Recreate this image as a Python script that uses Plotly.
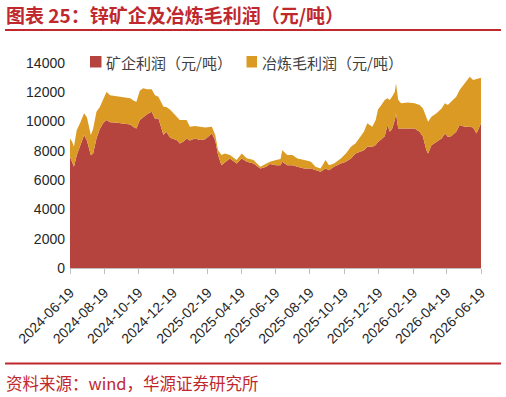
import plotly.graph_objects as go

dates = [
    "2024-06-19", "2024-06-23", "2024-06-26", "2024-07-01", "2024-07-07", "2024-07-14",
    "2024-07-19", "2024-07-26", "2024-07-30", "2024-08-05", "2024-08-11", "2024-08-17",
    "2024-08-23", "2024-08-29", "2024-09-07", "2024-09-16", "2024-09-25", "2024-10-04",
    "2024-10-11", "2024-10-15", "2024-10-21", "2024-10-27", "2024-11-03", "2024-11-11",
    "2024-11-17", "2024-11-23", "2024-12-02", "2024-12-07", "2024-12-14", "2024-12-26",
    "2024-12-31", "2025-01-06", "2025-01-12", "2025-01-18", "2025-01-27", "2025-02-05",
    "2025-02-14", "2025-02-26", "2025-03-04", "2025-03-09", "2025-03-15", "2025-03-21",
    "2025-03-30", "2025-04-11", "2025-04-20", "2025-04-29", "2025-05-11", "2025-05-23",
    "2025-06-03", "2025-06-09", "2025-06-20", "2025-06-28", "2025-07-01", "2025-07-10",
    "2025-07-19", "2025-07-28", "2025-08-09", "2025-08-21", "2025-08-29", "2025-09-07",
    "2025-09-16", "2025-09-22", "2025-10-01", "2025-10-13", "2025-10-22", "2025-10-31",
    "2025-11-08", "2025-11-17", "2025-11-23", "2025-11-29", "2025-12-08", "2025-12-14",
    "2025-12-18", "2025-12-24", "2025-12-30", "2026-01-04", "2026-01-08", "2026-01-12",
    "2026-01-17", "2026-01-19", "2026-01-23", "2026-01-28", "2026-02-09", "2026-02-21",
    "2026-03-02", "2026-03-08", "2026-03-14", "2026-03-17", "2026-03-23", "2026-04-01",
    "2026-04-10", "2026-04-16", "2026-04-21", "2026-04-27", "2026-05-06", "2026-05-12",
    "2026-05-21", "2026-05-30", "2026-06-05", "2026-06-11", "2026-06-14", "2026-06-19",
]

mine_profit = [
    7590, 7200, 6910, 7700, 8300, 9080, 8700, 7710, 7800, 8850, 9500, 9900,
    10100, 9950, 9930, 9900, 9860, 9800, 9600, 9530, 10100, 10300, 10500, 10670,
    10200, 10220, 9080, 9300, 8900, 8730, 8500, 8620, 8850, 8700, 8850, 8750,
    8800, 9190, 8700, 7710, 7020, 7200, 7480, 7140, 7480, 7250, 7140, 6800,
    6910, 7100, 7020, 7020, 7250, 7020, 7020, 6910, 6800, 6800, 6680, 6570,
    6800, 6680, 6910, 7140, 7250, 7480, 7820, 7940, 8050, 8280, 8280, 8400,
    8600, 8800, 9000, 9760, 9300, 9500, 10100, 10560, 9530, 9530, 9530, 9530,
    9300, 8960, 8050, 7820, 8390, 8620, 8850, 9190, 8960, 9000, 9300, 9760,
    9650, 9650, 9600, 9190, 9500, 9880,
]

smelt_profit = [
    1260, 1400, 1370, 1720, 1600, 1480, 1600, 1370, 1700, 1820, 1500, 1600,
    1940, 1850, 1820, 1800, 1790, 1800, 1800, 1820, 2000, 1970, 1700, 1530,
    1600, 1480, 1930, 1700, 1900, 1600, 1600, 1480, 1250, 950, 850, 900,
    800, 460, 380, 340, 690, 620, 230, 230, 340, 250, 230, 110,
    230, 150, 350, 430, 800, 690, 690, 570, 570, 450, 230, 230,
    570, 340, 230, 340, 570, 800, 690, 1020, 1250, 1600, 1370, 1700,
    2230, 2330, 2470, 1830, 2170, 2200, 1940, 2050, 1940, 1720, 1770, 1720,
    1830, 1940, 2280, 2170, 1940, 1940, 2050, 2060, 2170, 2360, 2400, 2390,
    2960, 3410, 3240, 3710, 3400, 3120,
]

x_ticks = [
    "2024-06-19", "2024-08-19", "2024-10-19", "2024-12-19", "2025-02-19", "2025-04-19",
    "2025-06-19", "2025-08-19", "2025-10-19", "2025-12-19", "2026-02-19", "2026-04-19",
    "2026-06-19",
]
y_ticks = [0, 2000, 4000, 6000, 8000, 10000, 12000, 14000]
y_tick_labels = ["0", "2000", "4000", "6000", "8000", "10000", "12000", "14000"]

series_names = ["矿企利润（元/吨）", "冶炼毛利润（元/吨）"]
colors = ["#B5443F", "#DB9A24"]
title_text = "图表 25：锌矿企及冶炼毛利润（元/吨）"
source_text = "资料来源：wind，华源证券研究所"

W, H = 506, 397
L, R, T, B = 70, 25, 63, 129
PW, PH = W - L - R, H - T - B


def px(x):
    return (x - L) / PW


def py(y):
    return (H - B - y) / PH


fig = go.Figure()
fig.add_trace(go.Scatter(
    x=dates, y=mine_profit, name=series_names[0], mode="lines",
    stackgroup="one", line=dict(width=0, color=colors[0]),
    fillcolor=colors[0], showlegend=False,
))
fig.add_trace(go.Scatter(
    x=dates, y=smelt_profit, name=series_names[1], mode="lines",
    stackgroup="one", line=dict(width=0, color=colors[1]),
    fillcolor=colors[1], showlegend=False,
))

cjk = "Noto Sans CJK SC"
red_txt = "#C0282E"

shapes = [
    dict(type="line", xref="paper", yref="paper", x0=px(5), x1=px(501), y0=py(30), y1=py(30),
         line=dict(color=red_txt, width=1.8)),
    dict(type="line", xref="paper", yref="paper", x0=px(5), x1=px(501), y0=py(363.5), y1=py(363.5),
         line=dict(color=red_txt, width=1.8)),
    dict(type="rect", xref="paper", yref="paper", x0=px(90), x1=px(101.5), y0=py(67.5), y1=py(56),
         fillcolor=colors[0], line=dict(width=0)),
    dict(type="rect", xref="paper", yref="paper", x0=px(246.5), x1=px(257), y0=py(67.5), y1=py(56),
         fillcolor=colors[1], line=dict(width=0)),
]

annotations = [
    dict(text=title_text, xref="paper", yref="paper", x=px(4), y=py(14.5), xanchor="left",
         yanchor="middle", showarrow=False, font=dict(family=cjk, size=19, color=red_txt, weight="bold")),
    dict(text=source_text, xref="paper", yref="paper", x=px(4), y=py(382.5), xanchor="left",
         yanchor="middle", showarrow=False, font=dict(family=cjk, size=16.5, color=red_txt)),
    dict(text=series_names[0], xref="paper", yref="paper", x=px(104), y=py(62), xanchor="left",
         yanchor="middle", showarrow=False, font=dict(family=cjk, size=15, color="#404040")),
    dict(text=series_names[1], xref="paper", yref="paper", x=px(260), y=py(62), xanchor="left",
         yanchor="middle", showarrow=False, font=dict(family=cjk, size=15, color="#404040")),
]

fig.update_layout(
    width=W, height=H,
    margin=dict(l=L, r=R, t=T, b=B, pad=0),
    paper_bgcolor="white", plot_bgcolor="white",
    showlegend=False,
    shapes=shapes, annotations=annotations,
    xaxis=dict(
        type="date", range=[x_ticks[0], x_ticks[-1]],
        tickvals=x_ticks, ticktext=x_ticks, tickangle=-45,
        showgrid=False, zeroline=False,
        showline=True, linecolor="#BFBFBF", linewidth=1,
        ticks="outside", ticklen=5, tickcolor="#BFBFBF",
        ticklabelstandoff=5,
        tickfont=dict(family="Liberation Sans, Arial", size=14, color="#262626"),
    ),
    yaxis=dict(
        range=[0, 14000], tickvals=y_ticks, ticktext=y_tick_labels,
        showgrid=False, zeroline=False, showline=False, ticks="",
        ticklabelstandoff=4,
        tickfont=dict(family="Liberation Sans, Arial", size=14, color="#262626"),
    ),
)

fig.write_html("out.html")
